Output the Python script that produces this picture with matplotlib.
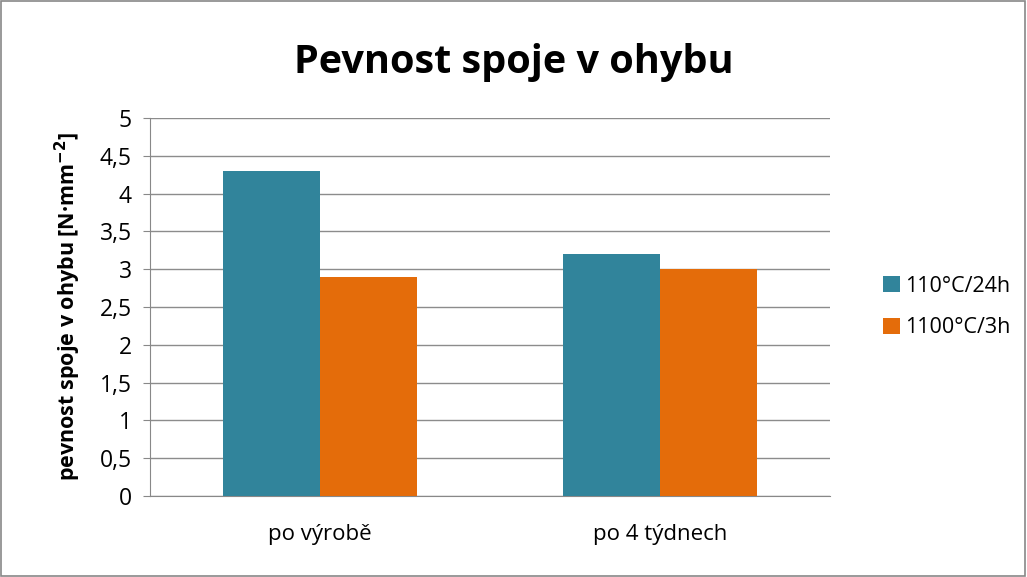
import numpy as np
import matplotlib.pyplot as plt
import matplotlib as mpl
from matplotlib.ticker import FuncFormatter

categories = ['po výrobě', 'po 4 týdnech']
series_names = ['110°C/24h', '1100°C/3h']
values_110 = [4.3, 3.2]
values_1100 = [2.9, 3.0]
colors = ['#31849B', '#E46C0A']

mpl.rcParams['font.family'] = ['Open Sans', 'DejaVu Sans']
mpl.rcParams['font.size'] = 16

fig = plt.figure(figsize=(10.27, 5.77), dpi=100)
ax = fig.add_axes([150 / 1027, 1 - 496 / 577, 680 / 1027, 378 / 577])

x = np.arange(len(categories))
w = 0.285
ax.bar(x - w / 2, values_110, w, color=colors[0], label=series_names[0], zorder=3)
ax.bar(x + w / 2, values_1100, w, color=colors[1], label=series_names[1], zorder=3)

ax.set_xlim(-0.5, 1.5)
ax.set_ylim(0, 5)
ax.set_yticks(np.arange(0, 5.01, 0.5))
ax.yaxis.set_major_formatter(FuncFormatter(lambda v, p: ('%g' % v).replace('.', ',')))
ax.set_xticks(x)
ax.set_xticklabels(categories, fontsize=16)
ax.tick_params(axis='x', length=0, pad=20)
ax.tick_params(axis='y', length=5, color='#888888', pad=8, labelsize=16.5)
ax.grid(axis='y', color='#8c8c8c', linewidth=1, zorder=0)
for s in ['top', 'right']:
    ax.spines[s].set_visible(False)
for s in ['left', 'bottom']:
    ax.spines[s].set_color('#888888')

ax.set_ylabel(r'pevnost spoje v ohybu [N·mm$^{\mathbf{-2}}$]', fontweight='bold', fontsize=15.5, labelpad=12)
fig.text(0.5, 1 - 62 / 577, 'Pevnost spoje v ohybu', ha='center', va='center',
         fontsize=28.5, fontweight='bold')

ax.legend(loc='center left', bbox_to_anchor=(1.05, 0.5), frameon=False, fontsize=15.5,
          handlelength=0.75, handleheight=0.75, handletextpad=0.25, labelspacing=0.95)

fig.patches.append(mpl.patches.Rectangle((0.001, 0.002), 0.997, 0.996, transform=fig.transFigure,
                                         fill=False, edgecolor='#888888', linewidth=1.2))

plt.savefig('out.png', dpi=100)
